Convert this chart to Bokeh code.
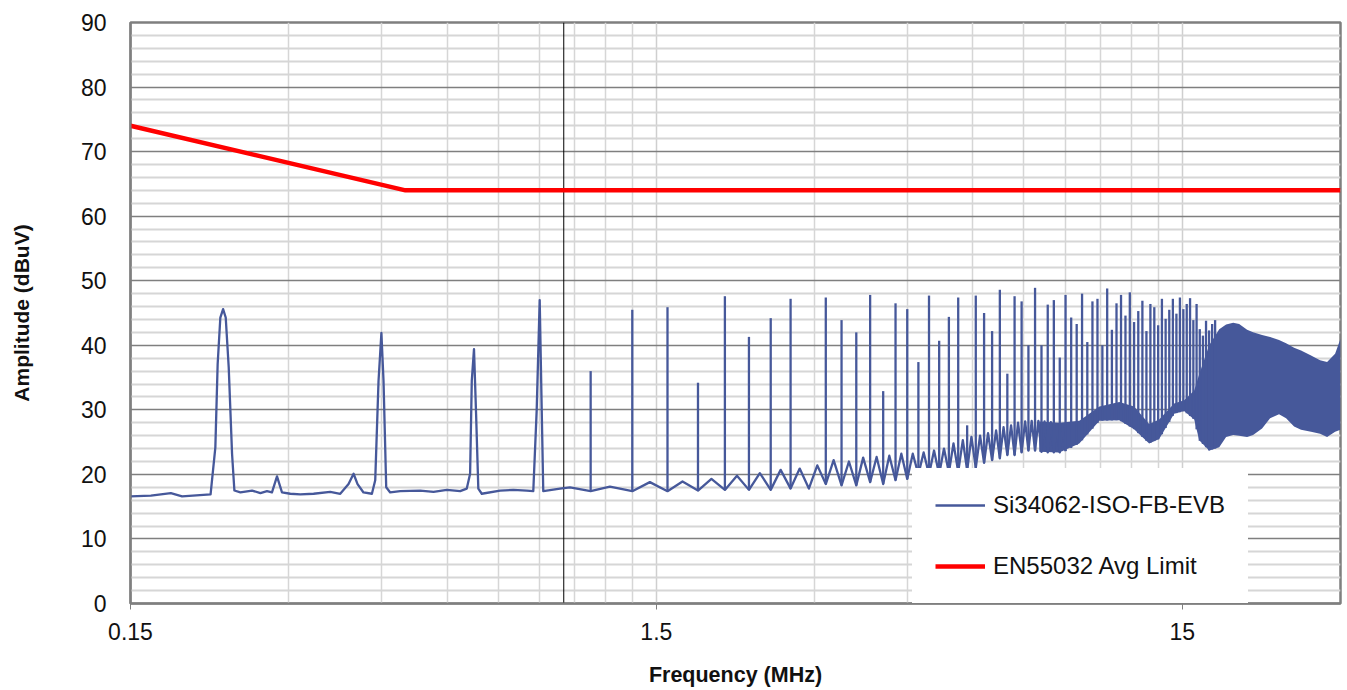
import numpy as np
from bokeh.plotting import figure
from bokeh.models import (Range1d, FixedTicker, CustomJSTickFormatter, Span,
                          Legend, LegendItem, ColumnDataSource)
from bokeh.embed import file_html
from bokeh.resources import INLINE

# ---------------- data ----------------
limit_mhz = [0.15, 0.5, 30.0]
limit_dbuv = [74.0, 64.0, 64.0]

# measured trace: floor / ripple / first harmonics (MHz, dBuV)
base_mhz = [0.15, 0.164, 0.179, 0.188, 0.213, 0.2175, 0.2197, 0.2223, 0.225, 0.2276,
            0.2306, 0.234, 0.2364, 0.2427, 0.2554, 0.2649, 0.2727, 0.2787, 0.2849, 0.2912,
            0.302, 0.3155, 0.3344, 0.3597, 0.3758, 0.3897, 0.3984, 0.4054, 0.4161, 0.4317,
            0.438, 0.4444, 0.45, 0.4542, 0.4596, 0.4677, 0.4886, 0.5333, 0.5654, 0.5994,
            0.6353, 0.654, 0.6636, 0.6685, 0.675, 0.6812, 0.6879, 0.6984, 0.7568, 0.8019,
            0.8503, 0.8751, 0.8883, 0.9, 0.908, 0.9142, 0.9836, 1.0275, 1.125, 1.224,
            1.35, 1.458, 1.575, 1.682, 1.8, 1.909, 2.025, 2.135, 2.25, 2.36,
            2.475, 2.585, 2.7, 2.81, 2.925, 3.035, 3.15, 3.26, 3.375, 3.486,
            3.6, 3.71, 3.825, 3.935, 4.05, 4.16, 4.275, 4.385, 4.5, 4.61,
            4.725, 4.835, 4.95, 5.06, 5.175, 5.285, 5.4, 5.51, 5.625, 5.74,
            5.85, 5.96, 6.075, 6.19, 6.3, 6.41, 6.525, 6.64, 6.75, 6.86,
            6.975, 7.09, 7.2, 7.31, 7.425, 7.54, 7.65, 7.76, 7.875, 7.99,
            8.1, 8.21, 8.325, 8.44, 8.55, 8.66, 8.775, 8.89, 9.0]
base_dbuv = [16.6, 16.7, 17.1, 16.6, 16.9, 24.2, 37.1, 44.3, 45.6, 44.3,
             36.6, 23.2, 17.5, 17.2, 17.5, 17.1, 17.4, 17.2, 19.7, 17.2,
             17.0, 16.9, 17.0, 17.3, 17.0, 18.5, 20.1, 18.5, 17.2, 17.0,
             19.1, 34.5, 41.9, 34.5, 18.0, 17.2, 17.4, 17.5, 17.3, 17.6,
             17.4, 17.8, 20.1, 34.5, 39.4, 29.4, 17.8, 17.0, 17.5, 17.6,
             17.5, 17.4, 30.0, 47.0, 30.0, 17.4, 17.8, 18.0, 17.4, 18.1,
             17.4, 18.8, 17.4, 18.9, 17.5, 19.3, 17.6, 19.8, 17.6, 20.2,
             17.6, 20.7, 17.8, 20.9, 17.8, 21.4, 18.5, 22.2, 18.3, 22.0,
             18.3, 22.6, 18.8, 22.7, 18.5, 22.9, 19.1, 23.2, 19.3, 23.2,
             20.0, 23.4, 20.0, 23.7, 20.0, 24.0, 20.3, 24.8, 20.4, 25.3,
             20.6, 25.8, 21.0, 26.0, 21.8, 26.4, 22.2, 26.8, 22.5, 27.3,
             23.0, 27.6, 23.0, 28.0, 23.4, 28.2, 23.7, 28.3, 23.7, 28.3,
             23.5, 28.2, 23.4, 28.1, 23.4, 27.8, 23.4, 27.4, 23.6]

# harmonic spikes (MHz, peak dBuV)
spike_mhz = [1.125, 1.35, 1.575, 1.8, 2.025, 2.25, 2.475, 2.7, 3.15, 3.375,
             3.6, 3.825, 4.05, 4.275, 4.5, 4.725, 4.95, 5.175, 5.4, 5.625,
             5.85, 6.075, 6.3, 6.525, 6.75, 6.975, 7.2, 7.425, 7.65, 7.875,
             8.1, 8.325, 8.55, 8.775, 9.0, 9.225, 9.45, 9.675, 9.9, 10.125,
             10.35, 10.575, 10.8, 11.025, 11.25, 11.475, 11.7, 11.925, 12.15, 12.375,
             12.6, 12.825, 13.05, 13.275, 13.5, 13.725, 13.95, 14.175, 14.4, 14.625,
             14.85, 15.075, 15.3, 15.525, 15.75, 15.975, 16.2, 16.425, 16.65, 16.875,
             17.1, 17.325]
spike_dbuv = [36.0, 45.5, 45.9, 34.2, 47.6, 41.3, 44.2, 47.2, 47.4, 43.9,
              42.0, 47.8, 32.9, 46.5, 45.6, 37.4, 47.7, 40.7, 44.4, 47.4,
              27.6, 47.7, 45.0, 42.2, 48.6, 35.6, 47.6, 46.8, 40.0, 48.9,
              40.0, 46.3, 47.0, 38.1, 47.8, 44.3, 43.3, 48.0, 40.5, 46.8,
              47.2, 40.0, 48.8, 42.4, 46.5, 47.8, 44.6, 48.2, 43.6, 45.3,
              46.9, 42.2, 46.4, 45.9, 43.1, 47.2, 44.1, 45.5, 47.2, 44.9,
              47.4, 45.6, 46.4, 47.3, 43.9, 46.4, 42.5, 41.5, 43.8, 42.3,
              43.3, 43.9]

# dense high-frequency region: lower and upper envelope of the trace
band_mhz = [8.02, 8.76, 9.56, 10.44, 11.39, 12.15, 12.98, 13.56, 14.48, 15.13,
            15.81, 16.16, 16.88, 17.64, 18.18, 18.75, 19.25, 19.93, 20.46, 21.28,
            22.04, 22.92, 23.64, 24.48, 25.24, 26.37, 27.43, 28.29, 29.3, 30.0]
band_low_dbuv = [23.5, 23.4, 24.8, 28.3, 28.4, 27.0, 24.8, 25.5, 29.4, 29.8,
                 28.5, 25.3, 23.7, 24.2, 25.8, 26.1, 26.0, 25.8, 26.1, 27.1,
                 28.7, 29.3, 28.7, 27.4, 26.9, 26.6, 26.3, 25.8, 26.6, 26.9]
band_high_dbuv = [28.2, 28.0, 28.3, 30.5, 31.2, 30.5, 27.8, 28.5, 31.0, 31.5,
                  33.0, 35.5, 40.0, 42.5, 43.2, 43.5, 43.3, 42.4, 42.0, 41.6,
                  41.3, 40.8, 40.3, 39.6, 39.2, 38.4, 37.7, 37.4, 38.7, 41.0]

x_ticks = [0.15, 1.5, 15]
x_minor = [0.3, 0.45, 0.6, 0.75, 0.9, 1.05, 1.2, 1.35,
           3, 4.5, 6, 7.5, 9, 10.5, 12, 13.5, 30]
y_ticks = [0, 10, 20, 30, 40, 50, 60, 70, 80, 90]
y_minor = [2, 4, 6, 8, 12, 14, 16, 18, 22, 24, 26, 28, 32, 34, 36, 38, 42, 44, 46, 48,
           52, 54, 56, 58, 62, 64, 66, 68, 72, 74, 76, 78, 82, 84, 86, 88]

series_name = "Si34062-ISO-FB-EVB"
limit_name = "EN55032 Avg Limit"

# ---------------- figure ----------------
BLUE = "#46589a"
FONT = "Liberation Sans"

p = figure(width=1346, height=689, x_axis_type="log",
           x_range=Range1d(0.15, 30), y_range=Range1d(0, 90),
           output_backend="svg", toolbar_location=None,
           min_border_left=130, min_border_right=6,
           min_border_top=22, min_border_bottom=86)
p.background_fill_color = "white"
p.border_fill_color = "white"
p.outline_line_color = "#7f7f7f"
p.outline_line_width = 2.5

p.xaxis.ticker = FixedTicker(ticks=x_ticks, minor_ticks=x_minor)
p.yaxis.ticker = FixedTicker(ticks=y_ticks, minor_ticks=y_minor)
p.xaxis.formatter = CustomJSTickFormatter(code="return tick.toString();")

for ax in (p.xaxis, p.yaxis):
    ax.axis_line_color = "#7f7f7f"
    ax.axis_line_width = 2
    ax.minor_tick_line_color = None
    ax.major_label_text_font = FONT
    ax.major_label_text_font_size = "23px"
    ax.major_label_text_color = "#111111"
    ax.axis_label_text_font = FONT
    ax.axis_label_text_font_style = "bold"
    ax.axis_label_text_color = "#111111"

p.xaxis.major_tick_line_color = "#7f7f7f"
p.xaxis.major_tick_in = 0
p.xaxis.major_tick_out = 6
p.xaxis.major_label_standoff = 13
p.xaxis.axis_label = "Frequency (MHz)"
p.xaxis.axis_label_text_font_size = "21.5px"
p.xaxis.axis_label_standoff = 20

p.yaxis.major_tick_line_color = None
p.yaxis.major_tick_in = 0
p.yaxis.major_tick_out = 0
p.yaxis.major_label_standoff = 20
p.yaxis.axis_label = "Amplitude (dBuV)"
p.yaxis.axis_label_text_font_size = "21px"
p.yaxis.axis_label_standoff = 45

p.xgrid.grid_line_color = "#cfcfcf"
p.xgrid.grid_line_width = 1.5
p.xgrid.minor_grid_line_color = "#d6d6d6"
p.xgrid.minor_grid_line_width = 1.5
p.ygrid.grid_line_color = "#7f7f7f"
p.ygrid.grid_line_width = 1.5
p.ygrid.minor_grid_line_color = "#d6d6d6"
p.ygrid.minor_grid_line_width = 1.8

p.add_layout(Span(location=1.0, dimension="height", line_color="#000000",
                  line_width=1, level="underlay"))

# dense band
p.varea(x=band_mhz, y1=band_low_dbuv, y2=band_high_dbuv, fill_color=BLUE, fill_alpha=1.0)

# trace floor
r_base = p.line(base_mhz, base_dbuv, line_color=BLUE, line_width=2.3, line_join="round")

# spikes from floor to peak
floor_f = [f for f in base_mhz if f <= 9.0] + [f for f in band_mhz if f > 9.0]
floor_d = [d for f, d in zip(base_mhz, base_dbuv) if f <= 9.0] + \
          [d for f, d in zip(band_mhz, band_low_dbuv) if f > 9.0]
foot = np.interp(np.log10(spike_mhz), np.log10(floor_f), floor_d)
spikes = ColumnDataSource(dict(x=spike_mhz, y0=foot, y1=spike_dbuv))
p.segment(x0="x", y0="y0", x1="x", y1="y1", source=spikes,
          line_color=BLUE, line_width=2.3)

# limit
r_lim = p.line(limit_mhz, limit_dbuv, line_color="#ff0000", line_width=4.5)

legend = Legend(items=[LegendItem(label=series_name, renderers=[r_base]),
                       LegendItem(label=limit_name, renderers=[r_lim])],
                location=(782, 0))
legend.label_text_font = FONT
legend.label_text_font_size = "24px"
legend.label_text_color = "#111111"
legend.glyph_width = 50
legend.glyph_height = 24
legend.label_height = 24
legend.spacing = 33
legend.padding = 22
legend.margin = 0
legend.label_standoff = 8
legend.border_line_color = "white"
legend.border_line_width = 1
legend.background_fill_color = "white"
legend.background_fill_alpha = 1.0
p.add_layout(legend)

open("out.html", "w").write(file_html(p, INLINE))
